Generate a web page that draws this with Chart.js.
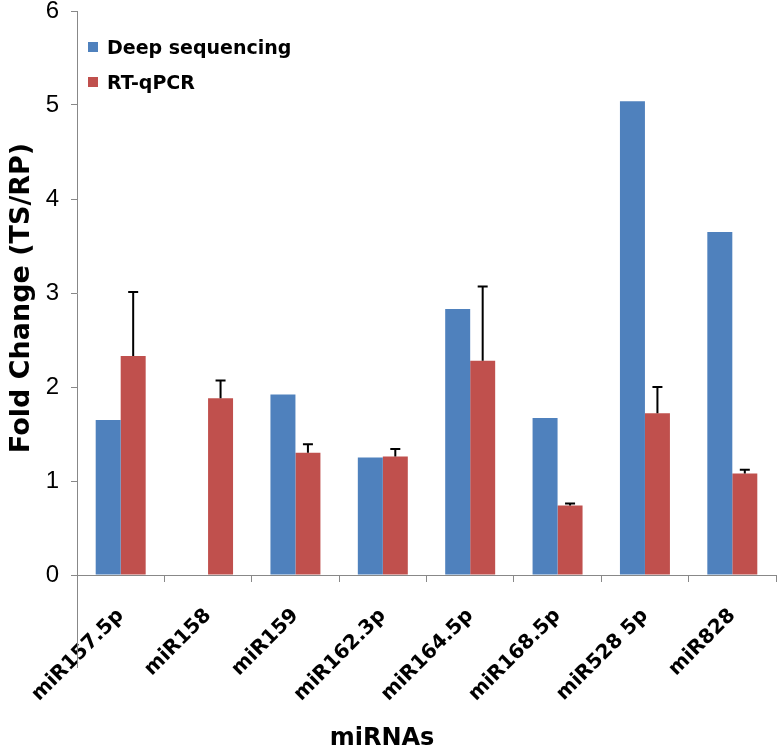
<!DOCTYPE html>
<html>
<head>
<meta charset="utf-8">
<title>Fold Change miRNAs</title>
<script src="https://cdn.jsdelivr.net/npm/chart.js@4.4.0/dist/chart.umd.min.js"></script>
<style>
  body { margin: 0; background: #fff; }
  #wrap { width: 779px; height: 750px; }
</style>
</head>
<body>
<div id="wrap"><canvas id="foldChart" width="779" height="750"></canvas></div>
<script>
// Data
const mirnas = ["miR157.5p", "miR158", "miR159", "miR162.3p", "miR164.5p", "miR168.5p", "miR528 5p", "miR828"];
const deepSeq = [1.65, 0, 1.92, 1.25, 2.83, 1.67, 5.04, 3.65];
const rtqpcr = [2.33, 1.88, 1.30, 1.26, 2.28, 0.74, 1.72, 1.08];
const rtqpcrErrTop = [3.01, 2.07, 1.39, 1.34, 3.07, 0.76, 2.00, 1.12];
const yTicks = [0, 1, 2, 3, 4, 5, 6];

const axisColor = "#888888";
const boldFont = "'DejaVu Sans', sans-serif";

// Error bars on the RT-qPCR bars (upper side only)
const errorBars = {
  id: "errorBars",
  afterDatasetsDraw(chart) {
    const meta = chart.getDatasetMeta(1);
    const yScale = chart.scales.y;
    const ctx = chart.ctx;
    ctx.save();
    ctx.strokeStyle = "#000";
    ctx.lineWidth = 2;
    meta.data.forEach((bar, i) => {
      const yTop = yScale.getPixelForValue(rtqpcrErrTop[i]);
      ctx.beginPath();
      ctx.moveTo(bar.x, bar.y);
      ctx.lineTo(bar.x, yTop);
      ctx.moveTo(bar.x - 5, yTop);
      ctx.lineTo(bar.x + 5, yTop);
      ctx.stroke();
    });
    ctx.restore();
  }
};

// Legend, axis titles and the axis-line stub below zero
const decorations = {
  id: "decorations",
  afterDraw(chart) {
    const ctx = chart.ctx;
    const area = chart.chartArea;
    ctx.save();

    // y axis line runs a bit below the x axis, as in the original
    ctx.strokeStyle = axisColor;
    ctx.lineWidth = 1;
    ctx.beginPath();
    ctx.moveTo(area.left + 0.5, area.bottom);
    ctx.lineTo(area.left + 0.5, area.bottom + 93);
    ctx.stroke();

    // legend
    const sets = chart.data.datasets;
    ctx.font = "bold 19px " + boldFont;
    ctx.textBaseline = "alphabetic";
    ctx.textAlign = "left";
    sets.forEach((ds, i) => {
      const y = 42 + i * 35;
      ctx.fillStyle = ds.backgroundColor;
      ctx.fillRect(88, y, 10, 10);
      ctx.fillStyle = "#000";
      ctx.fillText(ds.label, 107, y + 12);
    });

    // x title
    ctx.font = "bold 24px " + boldFont;
    ctx.textAlign = "center";
    ctx.fillText("miRNAs", 382, 745);

    // y title
    ctx.translate(29, 298);
    ctx.rotate(-Math.PI / 2);
    ctx.font = "bold 27px " + boldFont;
    ctx.fillText("Fold Change (TS/RP)", 0, 0);
    ctx.restore();
  }
};

new Chart(document.getElementById("foldChart"), {
  type: "bar",
  data: {
    labels: mirnas,
    datasets: [
      { label: "Deep sequencing", data: deepSeq, backgroundColor: "#4F81BD" },
      { label: "RT-qPCR", data: rtqpcr, backgroundColor: "#C0504D" }
    ]
  },
  options: {
    responsive: false,
    animation: false,
    layout: { padding: { top: 0, right: 3, left: 0, bottom: 0 } },
    datasets: {
      bar: { categoryPercentage: 0.572, barPercentage: 1.0 }
    },
    plugins: {
      legend: { display: false },
      tooltip: { enabled: false }
    },
    scales: {
      x: {
        grid: {
          offset: true,
          drawOnChartArea: false,
          drawTicks: true,
          tickLength: 7,
          color: axisColor
        },
        border: { color: axisColor },
        ticks: {
          autoSkip: false,
          minRotation: 45,
          maxRotation: 45,
          padding: 22,
          color: "#000",
          font: { family: boldFont, size: 20, weight: "bold" }
        },
        afterFit(scale) { scale.height = 175; }
      },
      y: {
        min: 0,
        max: 6,
        afterBuildTicks(scale) { scale.ticks = yTicks.map(v => ({ value: v })); },
        grid: {
          drawOnChartArea: false,
          drawTicks: true,
          tickLength: 6,
          color: axisColor
        },
        border: { color: axisColor },
        ticks: {
          padding: 12,
          color: "#000",
          font: { family: "'Liberation Sans', Arial, sans-serif", size: 24 }
        },
        afterFit(scale) {
          scale.width = 77;
          scale.paddingTop = 11;
        }
      }
    }
  },
  plugins: [errorBars, decorations]
});
</script>
</body>
</html>
